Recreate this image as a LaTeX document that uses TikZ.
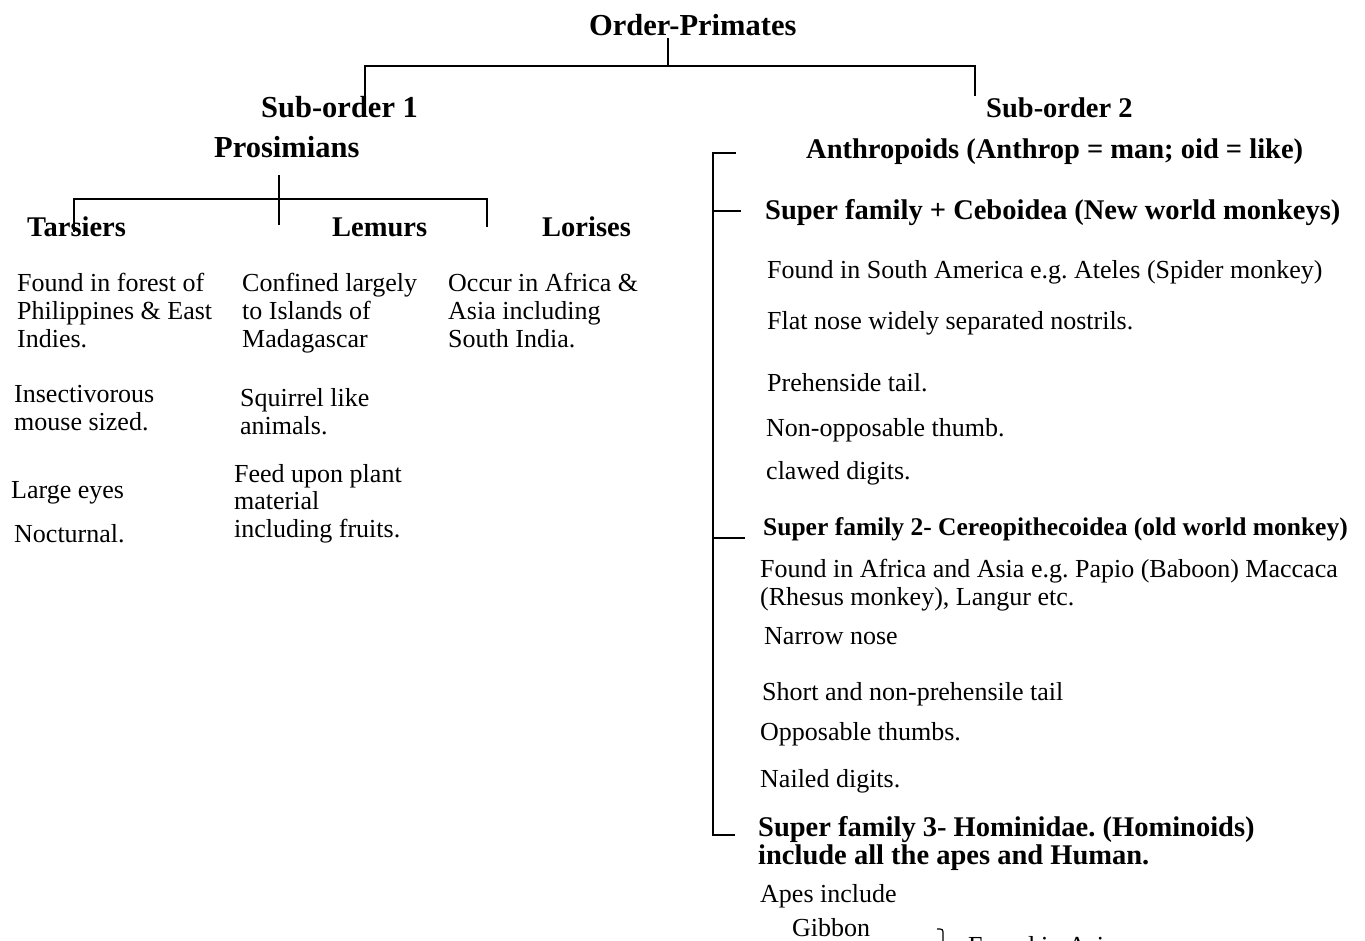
\documentclass[tikz,border=0pt]{standalone}
\usepackage{fontspec}
\setmainfont{Liberation Serif}
\usetikzlibrary{positioning}
\frenchspacing

\tikzset{
  txt/.style={anchor=base west, inner sep=0pt, align=left, font=\fontsize{26}{27.5}\selectfont},
  hd/.style={anchor=base west, inner sep=0pt, align=left, font=\fontsize{28.5}{27.5}\selectfont\bfseries},
  big/.style={hd, font=\fontsize{30.5}{30}\selectfont\bfseries},
  sml/.style={hd, font=\fontsize{25.5}{27}\selectfont\bfseries},
  ln/.style={line width=1.6pt}
}

\begin{document}
\begin{tikzpicture}[x=1pt,y=-1pt]
    \useasboundingbox (0,0) rectangle (1365,941);
    \clip (0,0) rectangle (1365,941);

    % order and sub-orders
    \node[big] (op) at (589,36) {Order-Primates};
    \node[big] (so1) at (261,118) {Sub-order 1};
    \node[big] (pro) at (214,158) {Prosimians};
    \node[hd] (so2) at (986,118) {Sub-order 2};

    \coordinate (a0) at (668,38);
    \coordinate (a1) at (668,66);
    \coordinate (a2) at (365,66);
    \coordinate (a3) at (365,97);
    \coordinate (a4) at (975,66);
    \coordinate (a5) at (975,96);
    \draw [ln] (a0) -- (a1);
    \draw [ln] (a3) -- (a2) -- (a4) -- (a5);

    % prosimians
    \node[hd] (tar) at (27,237) {Tarsiers};
    \node[hd] (lem) at (332,237) {Lemurs};
    \node[hd] (lor) at (542,237) {Lorises};

    \coordinate (b0) at (279,175);
    \coordinate (b1) at (279,225);
    \coordinate (b2) at (74,199);
    \coordinate (b3) at (74,232);
    \coordinate (b4) at (487,199);
    \coordinate (b5) at (487,227);
    \draw [ln] (b0) -- (b1);
    \draw [ln] (b3) -- (b2) -- (b4) -- (b5);

    % multi-line nodes sit on their last line
    \node[txt] (t1) at (17,347) {Found in forest of\\Philippines \& East\\Indies.};
    \node[txt] (t2) at (14,430) {Insectivorous\\mouse sized.};
    \node[txt] (t3) at (11,498) {Large eyes};
    \node[txt] (t4) at (14,542) {Nocturnal.};

    \node[txt] (l1) at (242,347) {Confined largely\\to Islands of\\Madagascar};
    \node[txt] (l2) at (240,434) {Squirrel like\\animals.};
    \node[txt] (l3) at (234,537) {Feed upon plant\\material\\including fruits.};

    \node[txt] (r1) at (448,347) {Occur in Africa \&\\Asia including\\South India.};

    % anthropoids
    \node[hd] (ant) at (806,159) {Anthropoids (Anthrop = man; oid = like)};
    \node[hd] (sf1) at (765,220) {Super family + Ceboidea (New world monkeys)};
    \node[txt] (c1) at (767,279) {Found in South America e.g. Ateles (Spider monkey)};
    \node[txt] (c2) at (767,330) {Flat nose widely separated nostrils.};
    \node[txt] (c3) at (767,391) {Prehenside tail.};
    \node[txt] (c4) at (766,436) {Non-opposable thumb.};
    \node[txt] (c5) at (766,479) {clawed digits.};

    \node[sml] (sf2) at (763,535) {Super family 2- Cereopithecoidea (old world monkey)};
    \node[txt] (o1) at (760,605) {Found in Africa and Asia e.g. Papio (Baboon) Maccaca\\(Rhesus monkey), Langur etc.};
    \node[txt] (o2) at (764,644) {Narrow nose};
    \node[txt] (o3) at (762,700) {Short and non-prehensile tail};
    \node[txt] (o4) at (760,740) {Opposable thumbs.};
    \node[txt] (o5) at (760,787) {Nailed digits.};

    \node[hd] (sf3) at (758,864) {Super family 3- Hominidae. (Hominoids)\\include all the apes and Human.};
    \node[txt] (h1) at (760,902) {Apes include};
    \node[txt] (h2) at (792,936) {Gibbon};
    \node[txt] (h3) at (968,954) {Found in Asia};

    \coordinate (d0) at (713,153);
    \coordinate (d1) at (713,835);
    \draw [ln] (736,153) -- (d0) -- (d1) -- (735,835);
    \draw [ln] (d0 |- 0,211) -- (741,211);
    \draw [ln] (d0 |- 0,538) -- (745,538);

    \draw [line width=1.2pt] (937,929) .. controls (943,929) .. (943,935) -- (943,945);
\end{tikzpicture}
\end{document}
